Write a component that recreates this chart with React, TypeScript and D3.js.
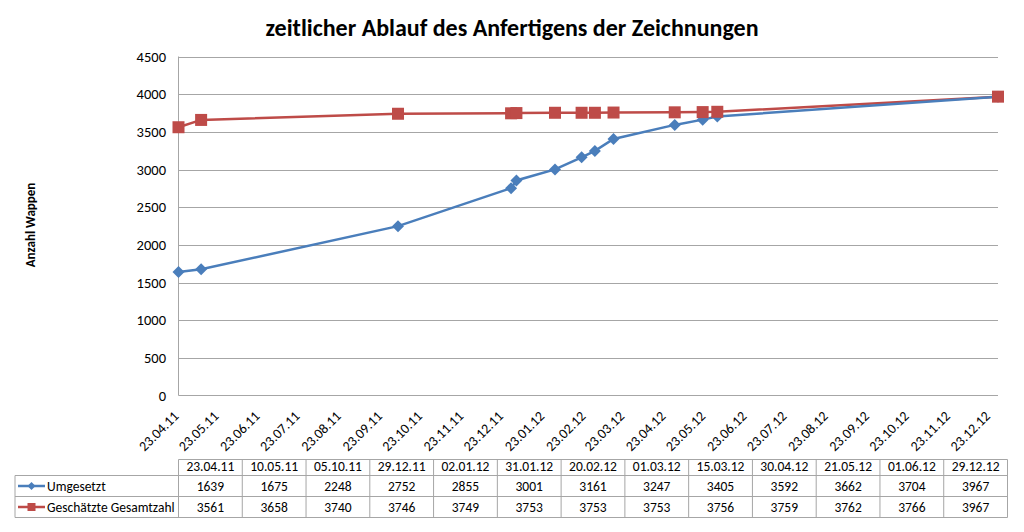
import React from "react";
import * as d3 from "d3";

const dates = ["23.04.11","10.05.11","05.10.11","29.12.11","02.01.12","31.01.12","20.02.12","01.03.12","15.03.12","30.04.12","21.05.12","01.06.12","29.12.12"];
const umgesetzt = [1639,1675,2248,2752,2855,3001,3161,3247,3405,3592,3662,3704,3967];
const geschaetzt = [3561,3658,3740,3746,3749,3753,3753,3753,3756,3759,3762,3766,3967];
const xTickLabels = ["23.04.11","23.05.11","23.06.11","23.07.11","23.08.11","23.09.11","23.10.11","23.11.11","23.12.11","23.01.12","23.02.12","23.03.12","23.04.12","23.05.12","23.06.12","23.07.12","23.08.12","23.09.12","23.10.12","23.11.12","23.12.12"];
const yTicks = [0,500,1000,1500,2000,2500,3000,3500,4000,4500];
const seriesNames = ["Umgesetzt","Geschätzte Gesamtzahl"];

const FONT = "Carlito, Lato, 'Liberation Sans', sans-serif";
const BLUE = "#4A7EBB";
const RED = "#BE4B48";

const parse = d3.timeParse("%d.%m.%y");

export default function App() {
  const W = 1024, H = 532;
  const left = 178.5, right = 998, top = 56.5, bottom = 395.5;
  const dd = dates.map((s) => parse(s)!);
  const x = d3.scaleTime().domain([dd[0], dd[dd.length - 1]]).range([left, right]);
  const y = d3.scaleLinear().domain([0, 4500]).range([bottom, top]);
  const line = d3.line<[Date, number]>().x((d) => x(d[0])).y((d) => y(d[1]));
  const blueData = dd.map((d, i) => [d, umgesetzt[i]] as [Date, number]);
  const redData = dd.map((d, i) => [d, geschaetzt[i]] as [Date, number]);

  const diamond = (cx: number, cy: number, r = 6) =>
    `M${cx},${cy - r}L${cx + r},${cy}L${cx},${cy + r}L${cx - r},${cy}Z`;

  const tLeft = 15, tX0 = 178.5, colW = (1007.5 - 178.5) / dates.length;
  const rowY = [459.5, 475.5, 496.5, 517.5];

  return (
    <div style={{ margin: -8 }}>
      <svg width={W} height={H} style={{ display: "block", fontFamily: FONT }}>
        <rect x={0} y={0} width={W} height={H} fill="#fff" />
        <rect x={1} y={1} width={1019} height={529} fill="none" stroke="#868686" strokeWidth={1.2} />
        <text x={512} y={36} textAnchor="middle" fontSize={24} fontWeight="bold" fill="#000">
          zeitlicher Ablauf des Anfertigens der Zeichnungen
        </text>
        <text transform={`translate(35,225) rotate(-90)`} textAnchor="middle" fontSize={13} fontWeight="bold">
          Anzahl Wappen
        </text>
        {yTicks.map((t) => (
          <g key={t}>
            {t > 0 && <line x1={left} x2={right} y1={Math.round(y(t)) + 0.5} y2={Math.round(y(t)) + 0.5} stroke="#A6A6A6" strokeWidth={1} />}
            <text x={166} y={y(t) + 5} textAnchor="end" fontSize={14.5} fill="#000">{t}</text>
          </g>
        ))}
        <line x1={left} x2={left} y1={top} y2={bottom} stroke="#A6A6A6" />
        <line x1={left} x2={right} y1={bottom} y2={bottom} stroke="#A6A6A6" />
        {xTickLabels.map((s) => {
          const px = x(parse(s)!);
          return (
            <text key={s} transform={`translate(${px + 1},${417}) rotate(-45)`} textAnchor="end" fontSize={14} fill="#000">
              {s}
            </text>
          );
        })}
        <path d={line(redData)!} fill="none" stroke={RED} strokeWidth={2.5} />
        <path d={line(blueData)!} fill="none" stroke={BLUE} strokeWidth={2.5} />
        {blueData.map((d, i) => (
          <path key={"b" + i} d={diamond(x(d[0]), y(d[1]))} fill={BLUE} />
        ))}
        {redData.map((d, i) => (
          <rect key={"r" + i} x={x(d[0]) - 6} y={y(d[1]) - 6} width={12} height={12} fill={RED} />
        ))}
        <g stroke="#A6A6A6" strokeWidth={1} fill="none">
          <line x1={tX0} x2={tX0 + colW * dates.length} y1={rowY[0]} y2={rowY[0]} />
          {[1, 2, 3].map((r) => (
            <line key={r} x1={tLeft} x2={tX0 + colW * dates.length} y1={rowY[r]} y2={rowY[r]} />
          ))}
          <line x1={tLeft} x2={tLeft} y1={rowY[1]} y2={rowY[3]} />
          {d3.range(dates.length + 1).map((i) => (
            <line key={i} x1={tX0 + colW * i} x2={tX0 + colW * i} y1={rowY[0]} y2={rowY[3]} />
          ))}
        </g>
        {dates.map((s, i) => (
          <g key={s} fontSize={13.5} textAnchor="middle" fill="#000">
            <text x={tX0 + colW * (i + 0.5)} y={rowY[0] + 11.5}>{s}</text>
            <text x={tX0 + colW * (i + 0.5)} y={rowY[1] + 15}>{umgesetzt[i]}</text>
            <text x={tX0 + colW * (i + 0.5)} y={rowY[2] + 15}>{geschaetzt[i]}</text>
          </g>
        ))}
        {seriesNames.map((n, r) => {
          const cy = (rowY[r + 1] + rowY[r + 2]) / 2;
          const col = r === 0 ? BLUE : RED;
          return (
            <g key={n}>
              <line x1={18} x2={45} y1={cy} y2={cy} stroke={col} strokeWidth={2.5} />
              {r === 0 ? (
                <path d={diamond(31.5, cy, 4)} fill={col} />
              ) : (
                <rect x={27.5} y={cy - 4} width={8} height={8} fill={col} />
              )}
              <text x={47} y={cy + 4.5} fontSize={13.5} fill="#000">{n}</text>
            </g>
          );
        })}
      </svg>
    </div>
  );
}
